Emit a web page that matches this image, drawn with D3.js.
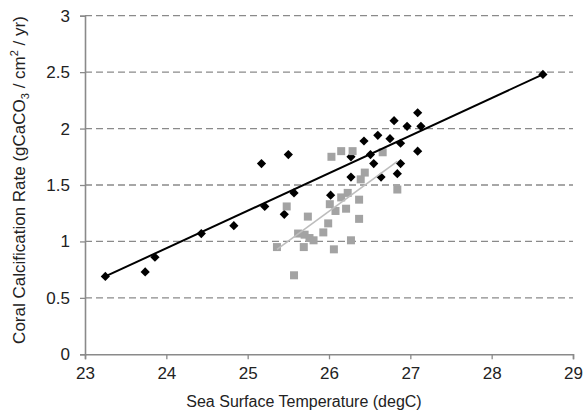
<!DOCTYPE html>
<html><head><meta charset="utf-8">
<script src="https://cdn.jsdelivr.net/npm/d3@7"></script>
<style>body{margin:0;background:#fff;}svg{display:block;font-family:"Liberation Sans",Arial,sans-serif;}</style>
</head><body>
<svg id="c" width="583" height="418"></svg>
<script>
// Series 1 (black diamonds)
const blackX = [23.25,23.74,23.86,24.43,24.83,25.17,25.50,25.21,25.45,25.57,26.02,26.27,26.27,26.43,26.51,26.55,26.60,26.64,26.75,26.80,26.84,26.88,26.88,26.96,27.09,27.13,27.09,28.63];
const blackY = [0.69,0.73,0.86,1.07,1.14,1.69,1.77,1.31,1.24,1.43,1.41,1.75,1.57,1.89,1.77,1.69,1.94,1.57,1.91,2.07,1.60,1.87,1.69,2.02,2.14,2.02,1.80,2.48];
// Series 2 (gray squares)
const grayX = [26.03,26.15,26.29,26.66,26.44,26.39,25.48,26.23,26.15,26.37,26.01,26.21,26.08,26.37,25.74,25.99,25.93,25.62,25.70,25.76,25.81,25.36,25.69,26.06,26.27,25.57,26.84];
const grayY = [1.75,1.80,1.80,1.79,1.61,1.55,1.31,1.43,1.39,1.37,1.33,1.29,1.27,1.20,1.22,1.16,1.08,1.07,1.06,1.03,1.01,0.95,0.95,0.93,1.01,0.70,1.46];
// Trend lines (endpoints)
const blackTrendX = [23.25,28.63];
const blackTrendY = [0.69,2.48];
const grayTrendX = [25.36,26.84];
const grayTrendY = [0.93,1.71];
// Ticks
const xTicks = [23,24,25,26,27,28,29];
const yTicks = [0,0.5,1,1.5,2,2.5,3];
const yTickLabels = ["0","0.5","1","1.5","2","2.5","3"];

const svg = d3.select("#c");
const x = d3.scaleLinear().domain([23,29]).range([85,573]);
const y = d3.scaleLinear().domain([0,3]).range([354.3,15.7]);

// gridlines
svg.append("g").selectAll("line").data(yTicks.filter(d=>d>0)).join("line")
  .attr("x1",x(23)).attr("x2",x(29)).attr("y1",d=>y(d)).attr("y2",d=>y(d))
  .attr("stroke","#8a8a8a").attr("stroke-width",1.3).attr("stroke-dasharray","7,4");

// axes
const axisColor = "#8a8a8a";
const gx = svg.append("g").attr("transform",`translate(0,${y(0)})`)
  .call(d3.axisBottom(x).tickValues(xTicks).tickSize(5).tickPadding(8).tickFormat(d3.format("d")));
const gy = svg.append("g").attr("transform",`translate(${x(23)},0)`)
  .call(d3.axisLeft(y).tickValues(yTicks).tickSize(5).tickPadding(10).tickFormat((d,i)=>yTickLabels[i]));
[gx,gy].forEach(g=>{
  g.select(".domain").attr("stroke",axisColor).attr("stroke-width",1.6);
  g.selectAll(".tick line").attr("stroke",axisColor).attr("stroke-width",1.3);
  g.selectAll("text").attr("fill","#222").style("font-size","17px").style("font-family","'Liberation Sans',Arial,sans-serif");
});

// black diamonds
const bData = blackX.map((v,i)=>[v,blackY[i]]);
svg.append("g").selectAll("path").data(bData).join("path")
  .attr("d","M0,-4.6L4.6,0L0,4.6L-4.6,0Z")
  .attr("transform",d=>`translate(${x(d[0])},${y(d[1])})`)
  .attr("fill","#000");

// gray squares
const gData = grayX.map((v,i)=>[v,grayY[i]]);
svg.append("g").selectAll("rect").data(gData).join("rect")
  .attr("x",d=>x(d[0])-4).attr("y",d=>y(d[1])-4).attr("width",8).attr("height",8)
  .attr("fill","#a3a3a3");

// trend lines
const line = d3.line().x(d=>x(d[0])).y(d=>y(d[1]));
svg.append("path").datum(blackTrendX.map((v,i)=>[v,blackTrendY[i]]))
  .attr("d",line).attr("stroke","#000").attr("stroke-width",2).attr("fill","none");
svg.append("path").datum(grayTrendX.map((v,i)=>[v,grayTrendY[i]]))
  .attr("d",line).attr("stroke","#bdbdbd").attr("stroke-width",1.6).attr("fill","none");

// axis titles
svg.append("text").attr("x",304).attr("y",407).attr("text-anchor","middle")
  .style("font-size","16px").attr("fill","#222").text("Sea Surface Temperature (degC)");
const yt = svg.append("text").attr("transform","translate(25,180) rotate(-90)")
  .attr("text-anchor","middle").style("font-size","17px").attr("fill","#222");
yt.append("tspan").text("Coral Calcification Rate (gCaCO");
yt.append("tspan").attr("dy",4).style("font-size","11px").text("3");
yt.append("tspan").attr("dy",-4).text(" / cm");
yt.append("tspan").attr("dy",-7).style("font-size","11px").text("2");
yt.append("tspan").attr("dy",7).text(" / yr)");
</script>
</body></html>
